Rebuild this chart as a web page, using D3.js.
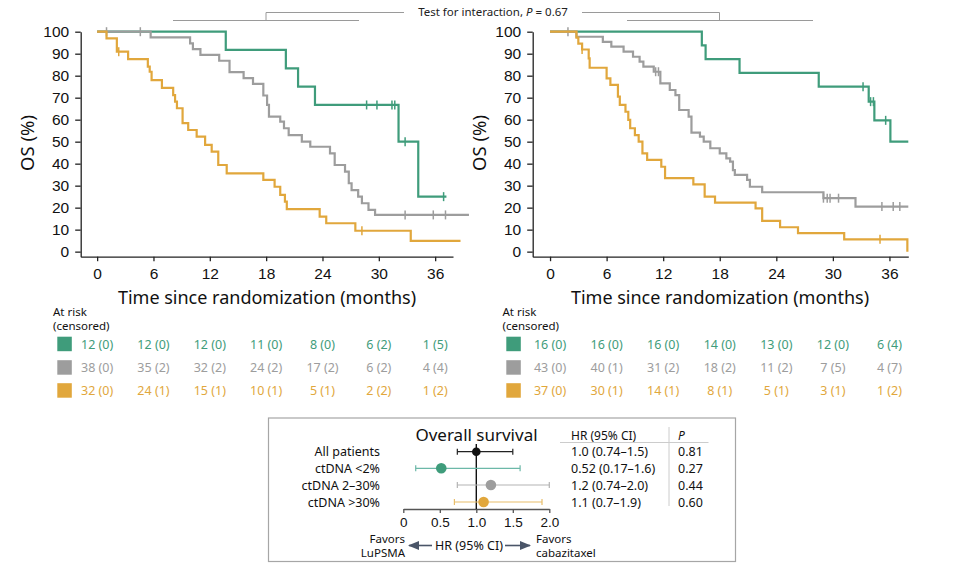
<!DOCTYPE html>
<html>
<head>
<meta charset="utf-8">
<script src="https://cdn.jsdelivr.net/npm/d3@7/dist/d3.min.js"></script>
<style>
  html, body { margin: 0; padding: 0; background: #fff; }
  svg { display: block; font-family: "Noto Sans", "DejaVu Sans", sans-serif; }
</style>
</head>
<body>
<svg id="chart" width="958" height="578"></svg>
<script>
// ---------------- DATA ----------------
const monthTicks = [0, 6, 12, 18, 24, 30, 36];
const osTicks = [0, 10, 20, 30, 40, 50, 60, 70, 80, 90, 100];
const groupNames = ["ctDNA <2%", "ctDNA 2–30%", "ctDNA >30%"];

// Left panel (LuPSMA) — KM steps [month, OS%]
const leftGreen = [[0,100],[13.7,91.7],[20.1,83.3],[21.4,75],[23.2,66.7],[32.1,50],[34.2,25],[37.2,25]];
const leftGreenCens = [[28.7,66.7],[29.8,66.7],[31.4,66.7],[31.7,66.7],[32.8,50],[36.9,25]];
const leftGray = [[0,100],[5.7,97.4],[9.9,94.7],[10.2,92.1],[11.0,89.5],[13.0,86.8],[14.1,81.6],[15.6,78.9],[16.6,76.3],[17.7,71.0],[18.1,66.7],[18.3,61.4],[19.5,59.1],[19.9,56.1],[20.4,53.0],[21.8,50.0],[22.7,47.7],[24.8,44.7],[25.3,39.4],[26.4,36.4],[26.8,31.1],[27.1,28.0],[27.8,25.0],[28.2,22.0],[28.9,19.0],[29.6,16.7],[39.6,16.7]];
const leftGrayCens = [[1.0,100],[4.6,100],[32.8,16.7],[35.8,16.7],[37.1,16.7]];
const leftOrange = [[0,100],[1.0,97],[2.1,90.9],[3.3,87.5],[5.4,84.1],[5.6,81.8],[5.8,78],[6.9,74.5],[8.1,71.2],[8.3,68.2],[8.5,65.2],[9.1,58.4],[9.7,55.3],[10.6,52.3],[11.5,48.5],[12.2,45.5],[12.9,39.4],[13.8,35.6],[17.7,32.6],[18.9,29.5],[19.5,25.8],[20.0,22.7],[20.2,19.3],[23.7,15.9],[24.4,12.9],[27.5,9.5],[33.4,4.9],[38.7,4.9]];
const leftOrangeCens = [[2.3,90.9],[28.2,9.5]];

// Right panel (cabazitaxel) — KM steps [month, OS%]
const rightGreen = [[0,100],[16.1,93.8],[16.5,87.5],[20.1,81.3],[28.5,75],[33.8,68.2],[34.4,59.7],[36.1,50],[38.0,50]];
const rightGreenCens = [[33.2,75],[34.0,68.2],[34.3,68.2],[35.6,59.7]];
const rightGray = [[0,100],[2.8,97.7],[5.6,95.4],[6.5,93.2],[7.8,90.9],[8.8,88.6],[9.5,86.4],[9.9,84.1],[11.0,81.8],[11.7,76.5],[12.7,73.5],[13.3,71.2],[13.7,64.4],[14.7,61.4],[15.0,54.1],[15.9,52.3],[16.3,50.0],[17.0,47.0],[18.0,44.7],[18.7,42.4],[19.1,40.9],[19.4,37.1],[19.6,34.9],[20.9,32.6],[21.2,29.5],[22.5,27.0],[29.0,24.3],[32.4,20.5],[38.0,20.5]];
const rightGrayCens = [[1.9,100],[11.2,81.8],[11.5,81.8],[29.0,24.3],[29.4,24.3],[29.7,24.3],[30.6,24.3],[35.2,20.5],[36.4,20.5],[37.1,20.5]];
const rightOrange = [[0,100],[2.8,97.3],[3.0,94.6],[3.4,91.9],[4.1,87.9],[4.2,83.6],[6.0,78.8],[6.4,75.8],[7.2,70.5],[7.4,66.7],[8.0,63.6],[8.3,59.9],[8.5,56.1],[9.0,53.0],[9.4,50.0],[9.8,44.7],[10.3,41.7],[11.8,38.6],[12.2,33.4],[15.2,30.6],[16.4,25.0],[17.5,22.3],[21.8,19.7],[22.5,14.0],[24.4,11.1],[26.3,8.4],[31.2,5.6],[37.9,0]];
const rightOrangeCens = [[3.4,91.9],[35.0,5.6]];

// At-risk tables (censored)
const leftRiskGreen  = ["12 (0)","12 (0)","12 (0)","11 (0)","8 (0)","6 (2)","1 (5)"];
const leftRiskGray   = ["38 (0)","35 (2)","32 (2)","24 (2)","17 (2)","6 (2)","4 (4)"];
const leftRiskOrange = ["32 (0)","24 (1)","15 (1)","10 (1)","5 (1)","2 (2)","1 (2)"];
const rightRiskGreen  = ["16 (0)","16 (0)","16 (0)","14 (0)","13 (0)","12 (0)","6 (4)"];
const rightRiskGray   = ["43 (0)","40 (1)","31 (2)","18 (2)","11 (2)","7 (5)","4 (7)"];
const rightRiskOrange = ["37 (0)","30 (1)","14 (1)","8 (1)","5 (1)","3 (1)","1 (2)"];

// Forest plot
const forestLabels = ["All patients", "ctDNA <2%", "ctDNA 2–30%", "ctDNA >30%"];
const forestHR  = [1.0, 0.52, 1.2, 1.1];
const forestLo  = [0.74, 0.17, 0.74, 0.7];
const forestHi  = [1.5, 1.6, 2.0, 1.9];
const forestHRText = ["1.0 (0.74–1.5)", "0.52 (0.17–1.6)", "1.2 (0.74–2.0)", "1.1 (0.7–1.9)"];
const forestP = ["0.81", "0.27", "0.44", "0.60"];
const hrTicks = [0, 0.5, 1.0, 1.5, 2.0];
const hrTickLabels = ["0", "0.5", "1.0", "1.5", "2.0"];

// ---------------- STYLE ----------------
const C = { green: "#3f9c7b", gray: "#9d9d9d", orange: "#e1a73c", black: "#111" };
const CI = { black: "#222", green: "#6cb8a8", gray: "#b3b3b3", orange: "#e8be6b" };

const svg = d3.select("#chart");

// ---------------- TOP BRACKET ----------------
const bracketG = svg.append("g").attr("stroke", "#9a9a9a").attr("stroke-width", 1).attr("fill", "none");
bracketG.append("path").attr("d", "M173,20.5H359M266,20.5V12.5H404");
bracketG.append("path").attr("d", "M582,12.5H719.5V20.5M627,20.5H813");
const tt = svg.append("text").attr("x", 493).attr("y", 16).attr("text-anchor", "middle")
  .attr("font-size", 11.5).attr("fill", "#222");
tt.append("tspan").text("Test for interaction, ");
tt.append("tspan").attr("font-style", "italic").text("P");
tt.append("tspan").text(" = 0.67");

// ---------------- KM PANELS ----------------
function kmPanel(opts) {
  const g = svg.append("g");
  const x = d3.scaleLinear().domain(opts.xDomain).range([opts.axisX, opts.axisRight]);
  const y = d3.scaleLinear().domain([-2.3, 100]).range([256.7, 31.7]);

  const xAxis = d3.axisBottom(x).tickValues(monthTicks).tickSize(4.5).tickSizeOuter(0).tickPadding(7);
  const gx = g.append("g").attr("transform", "translate(0,256.7)").call(xAxis);
  gx.selectAll("text").attr("font-size", 15.5).attr("fill", "#111");
  gx.selectAll("path,line").attr("stroke", "#222").attr("stroke-width", 1.3);

  const yAxis = d3.axisLeft(y).tickValues(osTicks).tickSize(5.5).tickSizeOuter(0).tickPadding(6);
  const gy = g.append("g").attr("transform", `translate(${opts.axisX},0)`).call(yAxis);
  gy.selectAll("text").attr("font-size", 15.5).attr("fill", "#111");
  gy.selectAll("path,line").attr("stroke", "#222").attr("stroke-width", 1.3);

  g.append("text").attr("transform", `translate(${opts.axisX - 47},143) rotate(-90)`)
    .attr("text-anchor", "middle").attr("font-size", 18.5).attr("fill", "#111").text("OS (%)");
  g.append("text").attr("x", opts.titleX).attr("y", 304).attr("text-anchor", "middle")
    .attr("font-size", 18).attr("fill", "#111").text("Time since randomization (months)");

  const line = d3.line().x(d => x(d[0])).y(d => y(d[1])).curve(d3.curveStepAfter);
  opts.series.forEach(s => {
    g.append("path").datum(s.data).attr("d", line).attr("fill", "none")
      .attr("stroke", s.color).attr("stroke-width", 2.2).attr("stroke-linejoin", "miter");
    g.append("g").selectAll("line").data(s.cens).join("line")
      .attr("x1", d => x(d[0])).attr("x2", d => x(d[0]))
      .attr("y1", d => y(d[1]) - 4.5).attr("y2", d => y(d[1]) + 4.5)
      .attr("stroke", s.color).attr("stroke-width", 1.5);
  });

  // risk table
  const rt = g.append("g");
  rt.append("text").attr("x", opts.riskLabelX).attr("y", 315.5).attr("font-size", 11.5).attr("fill", "#111").text("At risk");
  rt.append("text").attr("x", opts.riskLabelX).attr("y", 330).attr("font-size", 11.5).attr("fill", "#111").text("(censored)");
  const rowsY = [344, 367.5, 390.5];
  opts.risk.forEach((r, i) => {
    rt.append("rect").attr("x", opts.squareX).attr("y", rowsY[i] - 7.3).attr("width", 14.5).attr("height", 14.5).attr("fill", r.color);
    rt.append("g").selectAll("text").data(r.values).join("text")
      .attr("x", (d, j) => x(monthTicks[j])).attr("y", rowsY[i] + 4.5)
      .attr("text-anchor", "middle").attr("font-size", 12.5).attr("fill", r.color).text(d => d);
  });
}

kmPanel({
  xDomain: [-1.75, 37.9], axisX: 80.7, axisRight: 453, titleX: 267,
  riskLabelX: 53, squareX: 57.3,
  series: [
    { data: leftGreen, cens: leftGreenCens, color: C.green },
    { data: leftGray, cens: leftGrayCens, color: C.gray },
    { data: leftOrange, cens: leftOrangeCens, color: C.orange }
  ],
  risk: [
    { values: leftRiskGreen, color: C.green },
    { values: leftRiskGray, color: C.gray },
    { values: leftRiskOrange, color: C.orange }
  ]
});
kmPanel({
  xDomain: [-1.84, 38.0], axisX: 532.7, axisRight: 908.3, titleX: 720,
  riskLabelX: 502.5, squareX: 506.3,
  series: [
    { data: rightGreen, cens: rightGreenCens, color: C.green },
    { data: rightGray, cens: rightGrayCens, color: C.gray },
    { data: rightOrange, cens: rightOrangeCens, color: C.orange }
  ],
  risk: [
    { values: rightRiskGreen, color: C.green },
    { values: rightRiskGray, color: C.gray },
    { values: rightRiskOrange, color: C.orange }
  ]
});

// ---------------- FOREST PLOT ----------------
const fg = svg.append("g");
fg.append("rect").attr("x", 268.5).attr("y", 418).attr("width", 467).attr("height", 143.5)
  .attr("fill", "none").attr("stroke", "#a6a6a6").attr("stroke-width", 1.2);
fg.append("text").attr("x", 476.5).attr("y", 441).attr("text-anchor", "middle")
  .attr("font-size", 17).attr("fill", "#111").text("Overall survival");

const hx = d3.scaleLinear().domain([0, 2]).range([403.3, 549.3]);
const rowY = [451.7, 468.3, 485, 502];
const fColors = [C.black, C.green, C.gray, C.orange];
const fCI = [CI.black, CI.green, CI.gray, CI.orange];

const hAxis = d3.axisBottom(hx).tickValues(hrTicks).tickFormat((d, i) => hrTickLabels[i])
  .tickSize(4).tickSizeOuter(0).tickPadding(4);
const gh = fg.append("g").attr("transform", "translate(0,509)").call(hAxis);
gh.selectAll("text").attr("font-size", 13.5).attr("fill", "#111");
gh.selectAll("path,line").attr("stroke", "#555").attr("stroke-width", 1.3);

fg.append("line").attr("x1", hx(1)).attr("x2", hx(1)).attr("y1", 444).attr("y2", 509)
  .attr("stroke", "#111").attr("stroke-width", 1.4);

forestLabels.forEach((lab, i) => {
  const yy = rowY[i];
  fg.append("text").attr("x", 380).attr("y", yy + 4.5).attr("text-anchor", "end")
    .attr("font-size", 12.5).attr("fill", "#111").text(lab);
  fg.append("line").attr("x1", hx(forestLo[i])).attr("x2", hx(forestHi[i])).attr("y1", yy).attr("y2", yy)
    .attr("stroke", fCI[i]).attr("stroke-width", 1.2);
  [forestLo[i], forestHi[i]].forEach(v => {
    fg.append("line").attr("x1", hx(v)).attr("x2", hx(v)).attr("y1", yy - 3).attr("y2", yy + 3)
      .attr("stroke", fCI[i]).attr("stroke-width", 1.2);
  });
  fg.append("circle").attr("cx", hx(forestHR[i])).attr("cy", yy).attr("r", i === 0 ? 4.3 : 5.3).attr("fill", fColors[i]);
  fg.append("text").attr("x", 571).attr("y", yy + 4.5).attr("font-size", 12.5).attr("fill", "#111").text(forestHRText[i]);
  fg.append("text").attr("x", 678).attr("y", yy + 4.5).attr("font-size", 12.5).attr("fill", "#111").text(forestP[i]);
});

fg.append("text").attr("x", 571).attr("y", 440).attr("font-size", 12).attr("fill", "#111").text("HR (95% CI)");
fg.append("text").attr("x", 678).attr("y", 440).attr("font-size", 12).attr("font-style", "italic").attr("fill", "#111").text("P");
fg.append("line").attr("x1", 560).attr("x2", 708.5).attr("y1", 442.5).attr("y2", 442.5).attr("stroke", "#ccc").attr("stroke-width", 1);
fg.append("line").attr("x1", 669).attr("x2", 669).attr("y1", 427).attr("y2", 506).attr("stroke", "#ccc").attr("stroke-width", 1);

// bottom direction labels
const favL = fg.append("text").attr("text-anchor", "end").attr("font-size", 11.5).attr("fill", "#111");
favL.append("tspan").attr("x", 405).attr("y", 542.5).text("Favors");
favL.append("tspan").attr("x", 405).attr("y", 557).text("LuPSMA");
const favR = fg.append("text").attr("text-anchor", "start").attr("font-size", 11.5).attr("fill", "#111");
favR.append("tspan").attr("x", 536).attr("y", 542.5).text("Favors");
favR.append("tspan").attr("x", 536).attr("y", 557).text("cabazitaxel");
fg.append("text").attr("x", 469).attr("y", 549.5).attr("text-anchor", "middle").attr("font-size", 12.5).attr("fill", "#111").text("HR (95% CI)");

const arrowC = "#4a5568";
svg.append("defs").append("marker").attr("id", "ah").attr("viewBox", "0 0 10 10").attr("refX", 9).attr("refY", 5)
  .attr("markerWidth", 7).attr("markerHeight", 7).attr("orient", "auto-start-reverse")
  .append("path").attr("d", "M0,1L10,5L0,9Z").attr("fill", arrowC);
fg.append("line").attr("x1", 432).attr("x2", 409).attr("y1", 545.5).attr("y2", 545.5)
  .attr("stroke", arrowC).attr("stroke-width", 1.6).attr("marker-end", "url(#ah)");
fg.append("line").attr("x1", 505).attr("x2", 530).attr("y1", 545.5).attr("y2", 545.5)
  .attr("stroke", arrowC).attr("stroke-width", 1.6).attr("marker-end", "url(#ah)");
</script>
</body>
</html>
